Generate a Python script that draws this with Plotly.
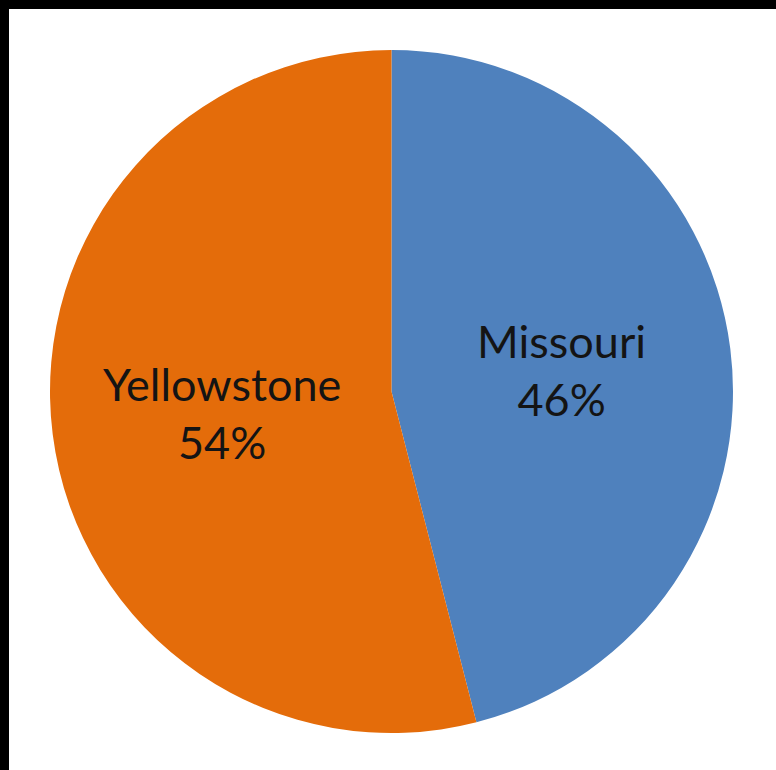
import plotly.graph_objects as go

labels = ["Missouri", "Yellowstone"]
values = [46, 54]
colors = ["#4F81BD", "#E46C0A"]

W, H = 776, 770
fig = go.Figure(go.Pie(
    labels=labels,
    values=values,
    sort=False,
    direction="clockwise",
    rotation=0,
    marker=dict(colors=colors, line=dict(width=0)),
    textinfo="label+percent",
    textposition="inside",
    insidetextorientation="horizontal",
    texttemplate="%{label}<br>%{percent:.0%}",
    textfont=dict(family="Lato, Calibri, sans-serif", size=45, color="#141414"),
    domain=dict(x=[50 / W, 733 / W], y=[1 - 733 / H, 1 - 50 / H]),
    showlegend=False,
    hoverinfo="label+percent",
))

fig.update_layout(
    width=W, height=H,
    margin=dict(l=0, r=0, t=0, b=0),
    paper_bgcolor="black",
    uniformtext=dict(minsize=45, mode="show"),
    shapes=[dict(type="rect", xref="paper", yref="paper",
                 x0=9 / W, x1=1, y0=0, y1=1 - 9 / H,
                 fillcolor="white", line=dict(width=0), layer="below")],
)

fig.write_html("out.html",
               config={"displayModeBar": False},
               post_script="document.body.style.margin='0';document.body.style.overflow='hidden';")
